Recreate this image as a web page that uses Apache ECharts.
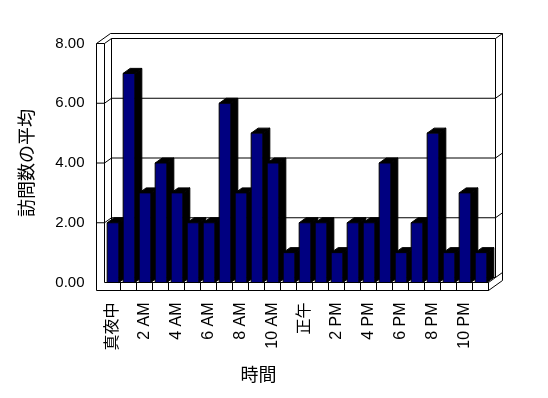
<!DOCTYPE html>
<html>
<head>
<meta charset="utf-8">
<script src="https://cdn.jsdelivr.net/npm/echarts@6/dist/echarts.min.js"></script>
<style>
html,body{margin:0;padding:0;background:#fff;}
#c{width:548px;height:398px;}
</style>
</head>
<body>
<div id="c"></div>
<script>
const hours = ['真夜中','1 AM','2 AM','3 AM','4 AM','5 AM','6 AM','7 AM','8 AM','9 AM','10 AM','11 AM',
               '正午','1 PM','2 PM','3 PM','4 PM','5 PM','6 PM','7 PM','8 PM','9 PM','10 PM','11 PM'];
const visits = [2,7,3,4,3,2,2,6,3,5,4,1,2,2,1,2,2,4,1,2,5,1,3,1];
const yTicks = [0,2,4,6,8];
const yName = '訪問数の平均';
const xName = '時間';

const DX = 7, DY = -5;       // depth offset
const WALL = 8, FLOOR = 8;   // wall / floor thickness
const FONT = "'Liberation Sans', Arial, 'Noto Sans CJK JP', sans-serif";
const LINE = {stroke:'#000', lineWidth:1, fill:null};

const chart = echarts.init(document.getElementById('c'), null, {renderer:'canvas'});

function frameItem(params, api){
  const cs = params.coordSys;
  const L = cs.x, R = cs.x + cs.width, T = cs.y, B = cs.y + cs.height;
  const bw = cs.width / hours.length;
  const kids = [];
  const pl = (pts) => kids.push({type:'polyline', shape:{points:pts}, style:LINE});
  // outer L of wall + floor front faces
  pl([[L-WALL,T],[L-WALL,B+FLOOR],[R,B+FLOOR]]);
  pl([[L-WALL,T],[L,T]]);
  pl([[L,T],[L,B],[R,B],[R,B+FLOOR]]);
  // left wall top
  pl([[L-WALL,T],[L-WALL+2*DX,T+2*DY]]);
  pl([[L,T],[L+DX,T+DY]]);
  // back wall inner
  pl([[L+DX,B+DY],[L+DX,T+DY],[R+DX,T+DY],[R+DX,B+DY]]);
  // back wall outer
  pl([[L-WALL+2*DX,T+2*DY],[R+2*DX,T+2*DY],[R+2*DX,B+FLOOR+2*DY]]);
  pl([[R+DX,T+DY],[R+2*DX,T+2*DY]]);
  // floor right
  pl([[R,B+FLOOR],[R+2*DX,B+FLOOR+2*DY]]);
  pl([[R,B],[R+DX,B+DY]]);
  // floor cells
  for (let k=1;k<=hours.length;k++){
    const x = L + k*bw;
    pl([[x,B],[x,B+FLOOR]]);
  }
  // gridlines and ticks
  yTicks.forEach(v=>{
    const y = api.coord([0,v])[1];
    if (v>0 && v<8){
      pl([[L-WALL,y],[L,y],[L+DX,y+DY],[R+DX,y+DY],[R+2*DX,y+2*DY]]);
    } else if (v===0){
      pl([[L+DX,y+DY],[R+DX,y+DY],[R+2*DX,y+2*DY]]);
    }
  });
  return {type:'group', children:kids};
}

function barItem(params, api){
  const i = api.value(0), v = api.value(1);
  const base = api.coord([i,0]);
  const top = api.coord([i,v]);
  const bw = api.size([1,0])[0];
  const w = bw*0.73;
  const x0 = base[0] - w/2 + 0.5, x1 = x0 + w;
  const yt = top[1], yb = base[1];
  return {type:'group', children:[
    {type:'polygon', shape:{points:[[x1,yt],[x1+DX,yt+DY],[x1+DX,yb+DY],[x1,yb]]}, style:{fill:'#000',stroke:'#000',lineWidth:1}},
    {type:'polygon', shape:{points:[[x0,yt],[x0+DX,yt+DY],[x1+DX,yt+DY],[x1,yt]]}, style:{fill:'#000',stroke:'#000',lineWidth:1}},
    {type:'rect', shape:{x:x0,y:yt,width:w,height:yb-yt}, style:{fill:'#000080',stroke:'#000',lineWidth:1}}
  ]};
}

chart.setOption({
  animation:false,
  backgroundColor:'#fff',
  grid:{left:104.5, top:43.5, width:384, height:239},
  xAxis:{
    type:'category', data:hours, boundaryGap:true,
    axisLine:{show:false}, axisTick:{show:false}, splitLine:{show:false},
    axisLabel:{rotate:90, interval:1, margin:20, fontSize:16, color:'#000', fontFamily:FONT},
    name:xName, nameLocation:'middle', nameGap:85,
    nameTextStyle:{fontSize:18, color:'#000', fontFamily:FONT, padding:[0,76,0,0]}
  },
  yAxis:{
    type:'value', min:0, max:8, interval:2,
    axisLine:{show:false}, axisTick:{show:false}, splitLine:{show:false},
    axisLabel:{margin:20, fontSize:15, color:'#000', fontFamily:FONT, formatter:v=>v.toFixed(2)},
    name:yName, nameLocation:'middle', nameRotate:90, nameGap:67,
    nameTextStyle:{fontSize:18, color:'#000', fontFamily:FONT}
  },
  series:[
    {type:'custom', z:1, renderItem:frameItem, data:[[0,0]], encode:{x:0,y:1}, silent:true},
    {type:'custom', z:2, renderItem:barItem, data:visits.map((v,i)=>[i,v]), encode:{x:0,y:1}}
  ]
});
</script>
</body>
</html>
